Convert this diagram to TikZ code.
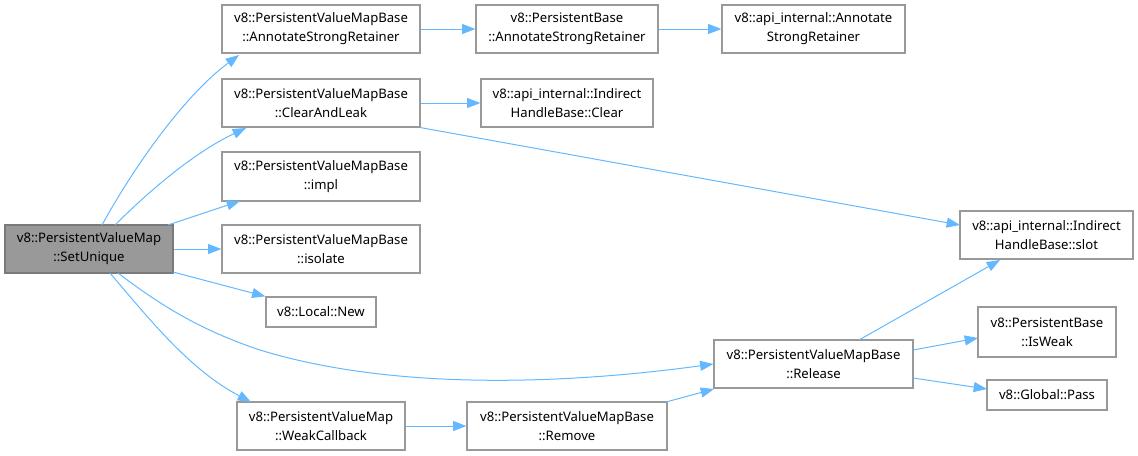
\documentclass[tikz,border=0pt]{standalone}
\usepackage{fontspec}
\setmainfont{Noto Sans}
\usetikzlibrary{arrows.meta}
\definecolor{edgec}{HTML}{63B8FF}
\definecolor{boxc}{HTML}{999999}
\definecolor{hifill}{HTML}{999999}
\tikzset{
  fn/.style={draw=boxc, line width=0.9pt, fill=white, inner sep=0pt, align=center,
    font=\fontsize{9.85}{14.25}\selectfont, text=black},
  hi/.style={fn, fill=hifill, draw=boxc!80!black},
  call/.style={draw=edgec, line width=0.75pt, -{Triangle[length=10pt,width=7.5pt]}},
}
\newcommand{\bx}[6]{% name, x1,y1,x2,y2, text
  \node[fn, minimum width={(#4-#2)*0.75pt}, minimum height={(#5-#3)*0.75pt}] (#1) at ({(#2+#4)/2},{(#3+#5)/2}) {#6};}
\begin{document}
\begin{tikzpicture}[x=0.75pt,y=-0.75pt]
\useasboundingbox (0,0) rectangle (1138,455);
\node[hi, minimum width={168*0.75pt}, minimum height={48*0.75pt}] (su) at (89,249) {v8::PersistentValueMap\\::SetUnique};
\bx{asr}{222}{5}{420}{53}{v8::PersistentValueMapBase\\::AnnotateStrongRetainer}
\bx{pbasr}{476}{5}{658}{53}{v8::PersistentBase\\::AnnotateStrongRetainer}
\bx{aiasr}{722}{5}{905}{53}{v8::api\_internal::Annotate\\StrongRetainer}
\bx{cal}{222}{79}{420}{127}{v8::PersistentValueMapBase\\::ClearAndLeak}
\bx{clr}{481}{79}{653}{127}{v8::api\_internal::Indirect\\HandleBase::Clear}
\bx{impl}{222}{152}{420}{201}{v8::PersistentValueMapBase\\::impl}
\bx{iso}{222}{225}{420}{273}{v8::PersistentValueMapBase\\::isolate}
\bx{lnew}{266}{297}{376}{327}{v8::Local::New}
\bx{wcb}{237}{402}{405}{450}{v8::PersistentValueMap\\::WeakCallback}
\bx{rem}{467}{402}{667}{450}{v8::PersistentValueMapBase\\::Remove}
\bx{rel}{714}{340}{913}{388}{v8::PersistentValueMapBase\\::Release}
\bx{slot}{960}{211}{1133}{259}{v8::api\_internal::Indirect\\HandleBase::slot}
\bx{weak}{978}{307}{1116}{357}{v8::PersistentBase\\::IsWeak}
\bx{pass}{987}{380}{1107}{410}{v8::Global::Pass}
\coordinate (s1) at (102,225);
\coordinate (s2) at (115,225);
\coordinate (s3) at (168,225);
\coordinate (s5) at (173,272);
\coordinate (s6) at (118,273);
\coordinate (s7) at (110,273);
\draw[call] (s1) .. controls (135,165) and (185,95) .. (239,55);
\draw[call] (s2) .. controls (150,190) and (195,152) .. (246,128);
\draw[call] (s3) -- (240,201);
\draw[call] (su.east) -- (iso.west);
\draw[call] (s5) -- (lnew.north west);
\draw[call] (s6) .. controls (160,305) and (200,330) .. (260,350) .. controls (390,390) and (560,385) .. (rel.west);
\draw[call] (s7) .. controls (150,320) and (190,370) .. (251,402);
\draw[call] (asr.east) -- (pbasr.west);
\draw[call] (pbasr.east) -- (aiasr.west);
\draw[call] (cal.east) -- (clr.west);
\draw[call] (cal.south east) -- (960,225);
\draw[call] (wcb.east) -- (rem.west);
\draw[call] (666,402) -- (714,389);
\draw[call] (859,340) -- (1000,260);
\draw[call] (913,350) -- (978,338);
\draw[call] (913,378) -- (987,389);
\end{tikzpicture}
\end{document}
